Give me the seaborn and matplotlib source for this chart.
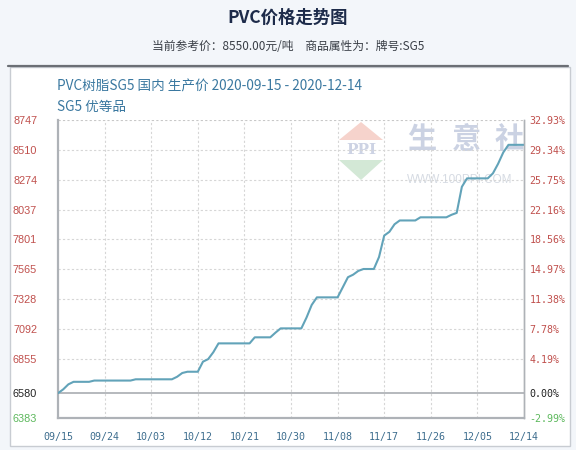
import numpy as np
import pandas as pd
import matplotlib
matplotlib.use("Agg")
import matplotlib.pyplot as plt
from matplotlib.patches import Polygon, Rectangle
from matplotlib.lines import Line2D
import seaborn as sns

# ---- data ----
dates = pd.date_range("2020-09-15", "2020-12-14", freq="D")
prices = [6580, 6610, 6650, 6670, 6670, 6670, 6670, 6680, 6680, 6680,
          6680, 6680, 6680, 6680, 6680, 6690, 6690, 6690, 6690, 6690,
          6690, 6690, 6690, 6710, 6740, 6750, 6750, 6750, 6830, 6850,
          6905, 6975, 6975, 6975, 6975, 6975, 6975, 6975, 7023, 7023,
          7023, 7023, 7060, 7094, 7094, 7094, 7094, 7094, 7180, 7280,
          7340, 7340, 7340, 7340, 7340, 7420, 7500, 7520, 7550, 7565,
          7565, 7565, 7660, 7830, 7860, 7920, 7950, 7950, 7950, 7950,
          7975, 7975, 7975, 7975, 7975, 7975, 7995, 8010, 8217, 8284,
          8284, 8284, 8284, 8284, 8324, 8400, 8490, 8550, 8550, 8550,
          8550]
y_ticks = [8747, 8510, 8274, 8037, 7801, 7565, 7328, 7092, 6855, 6580, 6383]
pct_labels = ["32.93%", "29.34%", "25.75%", "22.16%", "18.56%", "14.97%",
              "11.38%", "7.78%", "4.19%", "0.00%", "-2.99%"]
x_tick_dates = ["2020-09-15", "2020-09-24", "2020-10-03", "2020-10-12",
                "2020-10-21", "2020-10-30", "2020-11-08", "2020-11-17",
                "2020-11-26", "2020-12-05", "2020-12-14"]
x_tick_labels = ["09/15", "09/24", "10/03", "10/12", "10/21", "10/30",
                 "11/08", "11/17", "11/26", "12/05", "12/14"]
base_price = 6580

df = pd.DataFrame({"date": dates, "price": prices})

sns.set_style("white")
plt.rcParams["font.family"] = ["Noto Sans CJK SC", "DejaVu Sans"]

W, H = 576, 450
fig = plt.figure(figsize=(W / 100, H / 100), dpi=100)
fig.patch.set_facecolor("#f3f6fa")

def fx(px):
    return px / W

def fy(py):
    return 1 - py / H

# white panel + header rule
fig.add_artist(Rectangle((fx(10), fy(446)), fx(560), (446 - 67) / H,
                         transform=fig.transFigure, facecolor="white",
                         edgecolor="#c8ccd2", lw=1.0, zorder=-5))
fig.add_artist(Line2D([fx(8), fx(568)], [fy(66), fy(66)],
                      transform=fig.transFigure, color="#6b6f75", lw=1.6,
                      zorder=-4))

# header texts
fig.text(0.5, fy(18), "PVC价格走势图", ha="center", va="center",
         fontsize=12.5, fontweight="bold", color="#1d2b4a")
fig.text(0.5, fy(47), "当前参考价：8550.00元/吨　商品属性为：牌号:SG5",
         ha="center", va="center", fontsize=8.5, color="#3a3f47")
fig.text(fx(57), fy(87), "PVC树脂SG5 国内 生产价 2020-09-15 - 2020-12-14",
         ha="left", va="center", fontsize=9.8, color="#3a78a0")
fig.text(fx(57), fy(107), "SG5 优等品", ha="left", va="center",
         fontsize=9.8, color="#3a78a0")

# watermark
fig.add_artist(Polygon([[fx(339), fy(140)], [fx(383), fy(140)], [fx(361), fy(122)]],
                       closed=True, transform=fig.transFigure,
                       facecolor="#f6d3cc", edgecolor="none", zorder=-1))
fig.add_artist(Polygon([[fx(339), fy(160)], [fx(383), fy(160)], [fx(361), fy(180)]],
                       closed=True, transform=fig.transFigure,
                       facecolor="#d3e8d6", edgecolor="none", zorder=-1))
t = fig.text(fx(361), fy(150), "PPI", ha="center", va="center", fontsize=11,
             fontweight="bold", color="#cdd3e4", family="DejaVu Serif")
t.set_zorder(-1)
for ch, cx in zip(["生", "意", "社"], [422, 466, 509]):
    t = fig.text(fx(cx), fy(139), ch, ha="center", va="center",
                 fontsize=21, fontweight="bold", color="#cbd2e3")
    t.set_zorder(-1)
t = fig.text(fx(460), fy(180), "WWW.100PPI.COM", ha="center", va="center",
             fontsize=8.5, color="#d6dbe3", family="Liberation Sans")
t.set_zorder(-1)

ax = fig.add_axes([fx(58), fy(418), fx(524) - fx(58), (418 - 120) / H])
ax.set_facecolor("none")

sns.lineplot(data=df, x="date", y="price", ax=ax, color="#62a3b9", lw=1.5,
             zorder=5)

ymin, ymax = min(y_ticks), max(y_ticks)
xt = pd.to_datetime(x_tick_dates)
ax.set_xlim(xt[0], xt[-1])
ax.set_ylim(ymin, ymax)
ax.set_xlabel("")
ax.set_ylabel("")

# grid
for v in y_ticks:
    if v == base_price:
        ax.axhline(v, color="#a9adb2", lw=1.2, zorder=2)
    elif v not in (ymin, ymax):
        ax.axhline(v, color="#d6d6d6", lw=0.8, ls=(0, (2, 2)), zorder=1)
ax.axhline(ymax, color="#c8c8c8", lw=0.8, ls=(0, (2, 2)), zorder=1)
for d in xt[1:-1]:
    ax.axvline(d, color="#d6d6d6", lw=0.8, ls=(0, (2, 2)), zorder=1)

def color_for(v):
    if v > base_price:
        return "#c0504d"
    if v < base_price:
        return "#5cb85c"
    return "#222222"

ax.set_yticks(y_ticks)
ax.set_yticklabels([str(v) for v in y_ticks])
for lab, v in zip(ax.get_yticklabels(), y_ticks):
    lab.set_color(color_for(v))
    lab.set_family("Liberation Sans")
    lab.set_fontsize(7.8)
ax.tick_params(axis="y", length=0, pad=15)

ax.set_xticks(xt)
ax.set_xticklabels(x_tick_labels)
for lab in ax.get_xticklabels():
    lab.set_color("#3d6d8e")
    lab.set_family("DejaVu Sans Mono")
    lab.set_fontsize(7.2)
ax.tick_params(axis="x", length=0, pad=10)

for s in ["left", "bottom"]:
    ax.spines[s].set_color("#aeb2b7")
    ax.spines[s].set_linewidth(1.6)
ax.spines["right"].set_color("#aeb2b7")
ax.spines["right"].set_linewidth(1.0)
ax.spines["top"].set_visible(False)

ax2 = ax.twinx()
ax2.set_ylim(ymin, ymax)
ax2.set_yticks(y_ticks)
ax2.set_yticklabels(pct_labels)
for lab, v in zip(ax2.get_yticklabels(), y_ticks):
    lab.set_color(color_for(v))
    lab.set_family("DejaVu Sans Mono")
    lab.set_fontsize(7.2)
ax2.tick_params(axis="y", length=0, pad=4)
for s in ["left", "top", "bottom"]:
    ax2.spines[s].set_visible(False)
ax2.spines["right"].set_color("#aeb2b7")
ax2.spines["right"].set_linewidth(1.0)

fig.savefig("out.png", dpi=100)
